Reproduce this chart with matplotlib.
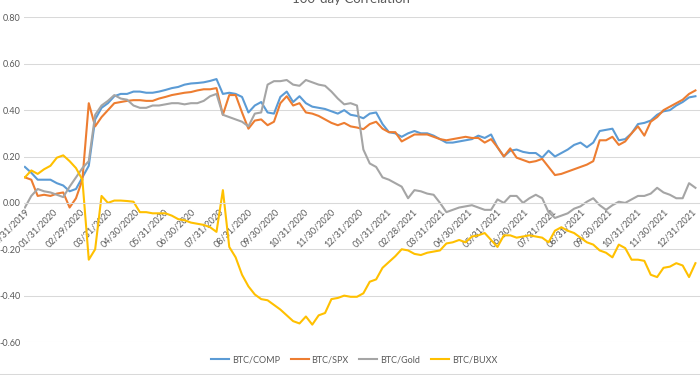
import matplotlib
matplotlib.use('Agg')
import matplotlib.pyplot as plt
import matplotlib.dates as mdates
from matplotlib.ticker import FuncFormatter
import pandas as pd
import numpy as np

# weekly sampling dates (x categories)
dates = pd.date_range('2019-12-31', periods=106, freq='7D')

btc_comp = [0.155, 0.13, 0.10, 0.10, 0.10, 0.085, 0.075, 0.05, 0.06, 0.11,
            0.16, 0.36, 0.41, 0.43, 0.46, 0.47, 0.47, 0.48, 0.48, 0.475,
            0.475, 0.48, 0.487, 0.495, 0.50, 0.51, 0.515, 0.517, 0.52, 0.526,
            0.534, 0.47, 0.475, 0.47, 0.457, 0.39, 0.42, 0.435, 0.39, 0.385,
            0.457, 0.48, 0.435, 0.46, 0.43, 0.415, 0.41, 0.405, 0.395, 0.385,
            0.40, 0.38, 0.375, 0.365, 0.385, 0.39, 0.34, 0.305, 0.30, 0.285,
            0.30, 0.31, 0.30, 0.30, 0.29, 0.275, 0.26, 0.26, 0.265, 0.27,
            0.275, 0.29, 0.28, 0.295, 0.24, 0.20, 0.225, 0.23, 0.22, 0.215,
            0.215, 0.195, 0.225, 0.20, 0.215, 0.23, 0.25, 0.26, 0.24, 0.26,
            0.31, 0.315, 0.32, 0.27, 0.275, 0.30, 0.34, 0.345, 0.355, 0.38,
            0.395, 0.40, 0.42, 0.435, 0.455, 0.46]

btc_spx = [0.11, 0.10, 0.03, 0.035, 0.03, 0.04, 0.045, -0.02, 0.02, 0.10,
           0.43, 0.33, 0.37, 0.40, 0.43, 0.435, 0.44, 0.443, 0.443, 0.44,
           0.44, 0.45, 0.457, 0.465, 0.47, 0.475, 0.478, 0.485, 0.49, 0.49,
           0.495, 0.38, 0.465, 0.465, 0.39, 0.32, 0.355, 0.36, 0.335, 0.35,
           0.43, 0.46, 0.42, 0.43, 0.39, 0.385, 0.375, 0.36, 0.345, 0.335,
           0.345, 0.33, 0.325, 0.318, 0.34, 0.35, 0.32, 0.305, 0.305, 0.265,
           0.28, 0.295, 0.295, 0.295, 0.285, 0.275, 0.27, 0.275, 0.28, 0.285,
           0.28, 0.28, 0.26, 0.275, 0.24, 0.20, 0.235, 0.195, 0.185, 0.175,
           0.18, 0.19, 0.155, 0.12, 0.125, 0.135, 0.145, 0.155, 0.165, 0.18,
           0.27, 0.27, 0.285, 0.25, 0.265, 0.30, 0.33, 0.29, 0.35, 0.37,
           0.40, 0.415, 0.43, 0.445, 0.47, 0.485]

btc_gold = [-0.02, 0.03, 0.06, 0.05, 0.045, 0.035, 0.025, 0.07, 0.11, 0.15,
            0.18, 0.38, 0.42, 0.44, 0.465, 0.45, 0.445, 0.42, 0.41, 0.41,
            0.42, 0.42, 0.425, 0.43, 0.43, 0.425, 0.43, 0.43, 0.44, 0.46,
            0.47, 0.38, 0.37, 0.36, 0.35, 0.33, 0.385, 0.39, 0.51, 0.525,
            0.525, 0.53, 0.51, 0.505, 0.53, 0.52, 0.51, 0.505, 0.48, 0.45,
            0.425, 0.43, 0.42, 0.23, 0.17, 0.155, 0.11, 0.10, 0.085, 0.07,
            0.02, 0.055, 0.05, 0.04, 0.035, 0.0, -0.04, -0.03, -0.02, -0.015,
            -0.01, -0.02, -0.03, -0.03, 0.015, 0.0, 0.03, 0.03, 0.0, 0.02,
            0.035, 0.02, -0.04, -0.065, -0.055, -0.045, -0.025, -0.015, 0.005, 0.02,
            -0.01, -0.03, -0.01, 0.005, 0.0, 0.015, 0.03, 0.03, 0.04, 0.065,
            0.045, 0.035, 0.02, 0.02, 0.085, 0.065]

btc_buxx = [0.11, 0.14, 0.125, 0.145, 0.16, 0.195, 0.205, 0.18, 0.15, 0.10,
            -0.245, -0.20, 0.03, 0.0, 0.01, 0.01, 0.008, 0.005, -0.04, -0.04,
            -0.045, -0.045, -0.045, -0.055, -0.07, -0.075, -0.085, -0.09, -0.095, -0.105,
            -0.125, 0.055, -0.19, -0.235, -0.31, -0.36, -0.395, -0.415, -0.42, -0.44,
            -0.46, -0.485, -0.51, -0.52, -0.49, -0.525, -0.485, -0.475, -0.415, -0.41,
            -0.40, -0.405, -0.405, -0.39, -0.34, -0.33, -0.28, -0.255, -0.23, -0.20,
            -0.205, -0.22, -0.225, -0.215, -0.21, -0.205, -0.175, -0.17, -0.16, -0.17,
            -0.145, -0.14, -0.13, -0.16, -0.19, -0.14, -0.14, -0.15, -0.145, -0.14,
            -0.145, -0.15, -0.17, -0.12, -0.105, -0.12, -0.13, -0.15, -0.17, -0.18,
            -0.205, -0.215, -0.235, -0.18, -0.195, -0.245, -0.245, -0.25, -0.31, -0.32,
            -0.28, -0.275, -0.26, -0.27, -0.32, -0.26]

series_names = ['BTC/COMP', 'BTC/SPX', 'BTC/Gold', 'BTC/BUXX']
series_colors = ['#5B9BD5', '#ED7D31', '#A5A5A5', '#FFC000']
tick_dates = pd.date_range('2019-12-31', '2021-12-31', freq='ME')
y_ticks = [-0.6, -0.4, -0.2, 0.0, 0.2, 0.4, 0.6, 0.8]
title = '100-day Correlation'

plt.rcParams['font.family'] = ['Lato', 'DejaVu Sans']
txt = '#595959'

fig = plt.figure(figsize=(7, 3.75), dpi=100)
W, H = 700, 375
ax = fig.add_axes([24 / W, 1 - 342 / H, 1 - 24 / W, (342 - 17.4) / H])

for vals, name, col in zip([btc_comp, btc_spx, btc_gold, btc_buxx], series_names, series_colors):
    ax.plot(dates, vals, color=col, lw=1.5, label=name, solid_joinstyle='round')

ax.set_ylim(-0.6, 0.8)
ax.set_xlim(pd.Timestamp('2019-12-30'), pd.Timestamp('2022-01-09'))
ax.set_yticks(y_ticks)
ax.yaxis.set_major_formatter(FuncFormatter(lambda v, p: f"{round(v, 2):.2f}" if abs(v) > 1e-9 else "0.00"))
ax.grid(axis='y', color='#d9d9d9', lw=0.75)
ax.set_axisbelow(True)
for s in ['top', 'right', 'left']:
    ax.spines[s].set_visible(False)
ax.spines['bottom'].set_position(('data', 0))
ax.spines['bottom'].set_color('#d9d9d9')
ax.spines['bottom'].set_linewidth(0.75)

ax.set_xticks(tick_dates)
ax.set_xticklabels([d.strftime('%m/%d/%Y') for d in tick_dates])
ax.tick_params(axis='x', length=0, pad=3, labelsize=6.5, labelcolor=txt)
ax.tick_params(axis='y', length=0, pad=2.5, labelsize=6.5, labelcolor=txt)
for lab in ax.get_xticklabels():
    lab.set_rotation(45)
    lab.set_ha('right')
    lab.set_va('top')
    lab.set_rotation_mode('anchor')

fig.text(351 / W, 1 - 3 / H, title, ha='center', va='baseline', fontsize=9.5, color=txt)

leg = fig.legend(loc='center', bbox_to_anchor=(354 / W, 1 - 360 / H), ncol=4, frameon=False,
                 fontsize=6.5, handlelength=2.0, handletextpad=0.3, columnspacing=1.2, labelcolor=txt)

fig.add_artist(plt.Line2D([0, 1], [1 - 373.5 / H, 1 - 373.5 / H], transform=fig.transFigure, color='#d9d9d9', lw=0.75))

fig.savefig('out.png', dpi=100)
